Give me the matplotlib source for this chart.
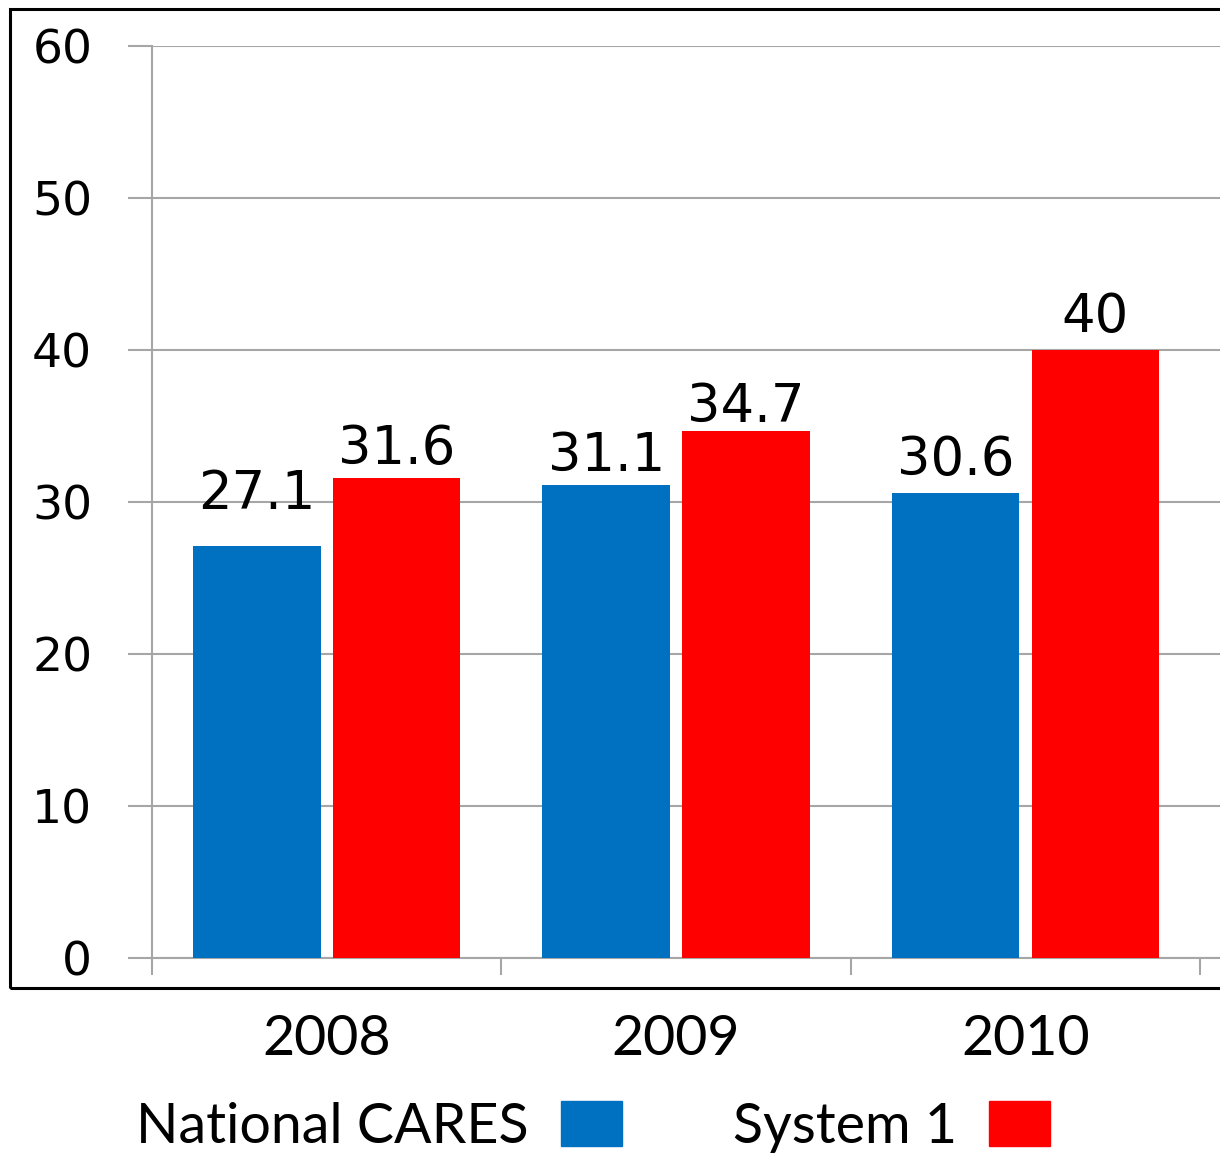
import numpy as np
import matplotlib
matplotlib.use("Agg")
import matplotlib.pyplot as plt
from matplotlib.patches import Rectangle, Patch

# data
years = ["2008", "2009", "2010"]
national_cares = [27.1, 31.1, 30.6]
system_1 = [31.6, 34.7, 40]
y_ticks = [0, 10, 20, 30, 40, 50, 60]

BLUE = "#0070C0"
RED = "#FF0000"
GRID = "#A6A6A6"

fig = plt.figure(figsize=(12.2, 11.62), dpi=100)
ax = fig.add_axes([0.1246, 0.1756, 0.8754, 0.7848])

x = np.arange(len(years))
w = 0.365
b1 = ax.bar(x - 0.2, national_cares, width=w, color=BLUE, zorder=3)
b2 = ax.bar(x + 0.2, system_1, width=w, color=RED, zorder=3)

# value labels, gap above bar in points (the 2008 blue label sits higher in the original)
nudge_blue = [27, 10, 13]
nudge_red = [10, 6, 13]
for bars, vals, nud in ((b1, national_cares, nudge_blue), (b2, system_1, nudge_red)):
    for r, v, n in zip(bars, vals, nud):
        ax.annotate(f"{v:g}", (r.get_x() + r.get_width() / 2, v),
                    xytext=(0, n), textcoords="offset points",
                    ha="center", va="baseline", fontsize=38,
                    family="DejaVu Sans", color="black")

ax.set_xlim(-0.5, 2.557)
ax.set_ylim(0, 60)
ax.set_yticks(y_ticks)
ax.set_yticklabels([str(t) for t in y_ticks], fontsize=34, family="DejaVu Sans")
ax.tick_params(axis="y", length=17, width=1.5, color=GRID, direction="out", pad=26)

ax.set_xticks(x)
ax.set_xticklabels(years, fontsize=40, family="Lato")
ax.set_xticks([-0.5, 0.5, 1.5, 2.5], minor=True)
ax.tick_params(axis="x", which="major", length=0, pad=40)
ax.tick_params(axis="x", which="minor", length=12, width=1.5, color=GRID, direction="out")

ax.yaxis.grid(True, color=GRID, linewidth=1.5, zorder=0)
ax.set_axisbelow(True)
for side in ("top", "right"):
    ax.spines[side].set_visible(False)
for side in ("left", "bottom"):
    ax.spines[side].set_color(GRID)
    ax.spines[side].set_linewidth(1.5)

# outer black frame of the chart area
fig.patches.append(Rectangle((0.0082, 0.1497), 1.2, 0.8426, transform=fig.transFigure,
                             fill=False, edgecolor="black", linewidth=2.2))

handles = [Patch(color=BLUE, label="National CARES"), Patch(color=RED, label="System 1")]
fig.legend(handles=handles, loc="center", bbox_to_anchor=(0.486, 0.03), ncol=2,
           frameon=False, markerfirst=False, prop={"family": "Lato", "size": 40},
           handlelength=1.1, handleheight=0.85, handletextpad=0.58, columnspacing=2.0,
           borderpad=0.1)

fig.savefig("out.png", dpi=100)
